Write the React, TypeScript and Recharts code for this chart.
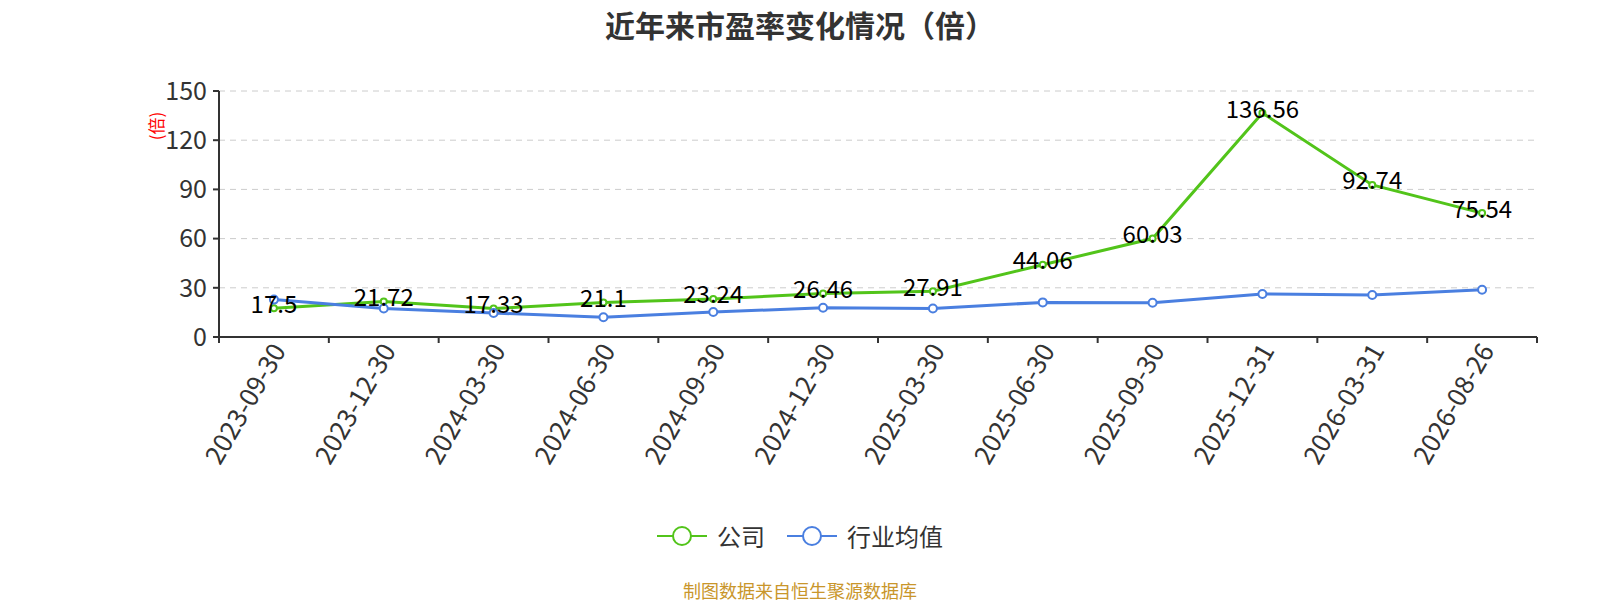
import { CartesianGrid, LabelList, Legend, Line, LineChart, XAxis, YAxis } from 'recharts';

const categories = [
  '2023-09-30',
  '2023-12-30',
  '2024-03-30',
  '2024-06-30',
  '2024-09-30',
  '2024-12-30',
  '2025-03-30',
  '2025-06-30',
  '2025-09-30',
  '2025-12-31',
  '2026-03-31',
  '2026-08-26',
];
const companyPE = [17.5, 21.72, 17.33, 21.1, 23.24, 26.46, 27.91, 44.06, 60.03, 136.56, 92.74, 75.54];
const industryPE = [22.8, 17.4, 14.6, 12.0, 15.2, 17.8, 17.4, 21.1, 20.9, 26.2, 25.6, 28.8];
const yTicks = [0, 30, 60, 90, 120, 150];

const FONT = '"Noto Sans CJK SC", "Noto Sans", sans-serif';
const GREEN = '#52c41a';
const BLUE = '#4a7fe0';

const data = categories.map((date, i) => ({
  pos: i + 0.5,
  date,
  company: companyPE[i],
  industry: industryPE[i],
}));
const bandTicks = categories.map((_, i) => i).concat(categories.length);
const centerTicks = data.map((d) => d.pos);

function DateTick(props: any) {
  const { x, y, payload } = props;
  const label = categories[Math.floor(payload.value)] ?? '';
  return (
    <g transform={`translate(${x + 5},${y})`}>
      <text textAnchor="end" transform="rotate(-60)" dy="0.35em" fill="#333" fontSize={26} fontFamily={FONT}>
        {label}
      </text>
    </g>
  );
}

function ValueLabel(props: any) {
  const { x, y, value } = props;
  return (
    <text x={x} y={y - 2} textAnchor="middle" dominantBaseline="middle" fill="#000" fontSize={24} fontFamily={FONT}>
      {value}
    </text>
  );
}

function LegendContent(props: any) {
  const items = (props.payload || []).filter((p: any) => p.type !== 'none');
  return (
    <div style={{ display: 'flex', justifyContent: 'center', alignItems: 'center', gap: 22, fontFamily: FONT }}>
      {items.map((item: any) => (
        <div key={item.value} style={{ display: 'flex', alignItems: 'center' }}>
          <svg width={50} height={22}>
            <line x1={0} y1={11} x2={50} y2={11} stroke={item.color} strokeWidth={2} />
            <circle cx={25} cy={11} r={9} fill="#fff" stroke={item.color} strokeWidth={2} />
          </svg>
          <span style={{ marginLeft: 10, fontSize: 24, color: '#333' }}>{item.value}</span>
        </div>
      ))}
    </div>
  );
}

function AxisTitle() {
  return (
    <text x={158} y={126} transform="rotate(-90 158 126)" textAnchor="middle" dominantBaseline="middle" fill="#f00" fontSize={17} fontFamily={FONT}>
      (倍)
    </text>
  );
}

export default function App() {
  return (
    <div style={{ position: 'absolute', left: 0, top: 0, width: 1600, height: 600, background: '#fff', fontFamily: FONT }}>
      <div style={{ position: 'absolute', top: 2, width: 1600, textAlign: 'center', fontSize: 30, fontWeight: 'bold', color: '#333' }}>
        近年来市盈率变化情况（倍）
      </div>
      <LineChart width={1600} height={600} data={data} margin={{ top: 91, right: 63, left: 0, bottom: 0 }}>
        <CartesianGrid xAxisId="band" vertical={false} stroke="#ccc" strokeDasharray="6 5" />
        <XAxis
          xAxisId="band"
          type="number"
          dataKey="pos"
          domain={[0, categories.length]}
          ticks={bandTicks}
          interval={0}
          tickFormatter={() => ''}
          tickSize={6}
          height={1}
          axisLine={{ stroke: '#333', strokeWidth: 2 }}
          tickLine={{ stroke: '#333', strokeWidth: 2 }}
        />
        <XAxis
          xAxisId="label"
          type="number"
          dataKey="pos"
          domain={[0, categories.length]}
          ticks={centerTicks}
          interval={0}
          axisLine={false}
          tickLine={false}
          height={262}
          tick={<DateTick />}
        />
        <YAxis
          domain={[0, 150]}
          ticks={yTicks}
          interval={0}
          width={219}
          tickSize={6}
          tickMargin={6}
          axisLine={{ stroke: '#333', strokeWidth: 2 }}
          tickLine={{ stroke: '#333', strokeWidth: 2 }}
          tick={{ fill: '#333', fontSize: 25, fontFamily: FONT }}
          label={<AxisTitle />}
        />
        <Legend
          verticalAlign="middle"
          align="center"
          wrapperStyle={{ top: 518, left: 0, width: 1600 }}
          content={<LegendContent />}
        />
        <Line
          xAxisId="band"
          dataKey="company"
          name="公司"
          stroke={GREEN}
          strokeWidth={3}
          dot={{ r: 3, fill: '#fff', stroke: GREEN, strokeWidth: 2 }}
          activeDot={false}
          isAnimationActive={false}
        />
        <Line
          xAxisId="band"
          dataKey="industry"
          name="行业均值"
          stroke={BLUE}
          strokeWidth={3}
          dot={{ r: 4, fill: '#fff', stroke: BLUE, strokeWidth: 2 }}
          activeDot={false}
          isAnimationActive={false}
        />
        <Line
          xAxisId="band"
          dataKey="company"
          name="labels"
          legendType="none"
          stroke="none"
          dot={false}
          activeDot={false}
          isAnimationActive={false}
        >
          <LabelList dataKey="company" content={<ValueLabel />} />
        </Line>
      </LineChart>
      <div style={{ position: 'absolute', top: 577, width: 1600, textAlign: 'center', fontSize: 18, color: '#c9962b' }}>
        制图数据来自恒生聚源数据库
      </div>
    </div>
  );
}
